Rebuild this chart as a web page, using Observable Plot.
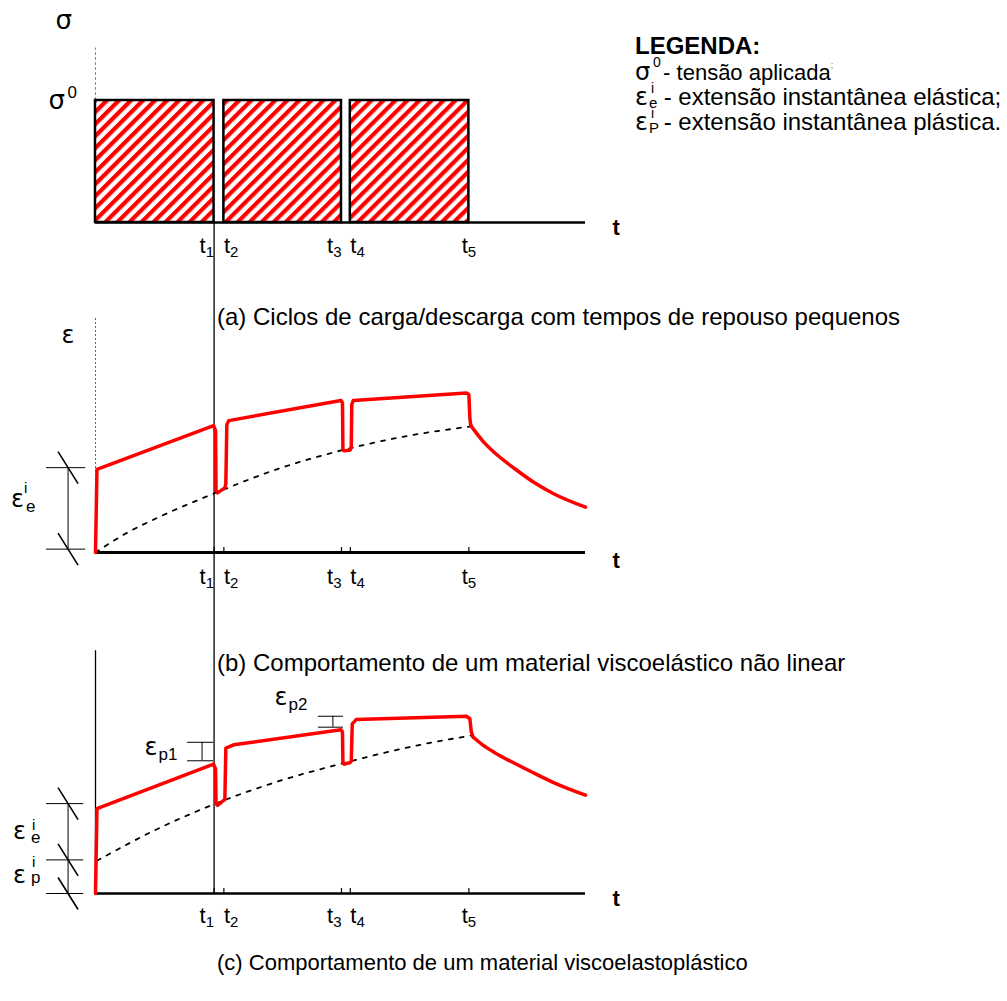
<!DOCTYPE html>
<html lang="pt">
<head>
<meta charset="utf-8">
<script src="https://cdn.jsdelivr.net/npm/d3@7"></script>
<script src="https://cdn.jsdelivr.net/npm/@observablehq/plot@0.6"></script>
<style>
  html, body { margin: 0; padding: 0; background: #fff; }
  #fig { position: relative; width: 1007px; height: 1001px; overflow: hidden; background: #fff; }
  #fig > svg { position: absolute; left: 0; }
</style>
</head>
<body>
<div id="fig"></div>
<script>
// ===================== DATA =====================
// time instants of loading / unloading (t1 .. t5) and end of the time axis
const tEvents = [2.42, 2.62, 5.02, 5.20, 7.62];
const tickSubs = ["1", "2", "3", "4", "5"];
const tEnd = 10;
// applied stress (panel a)
const sigma0 = 1;

// panel (b): viscoelastic material, total strain (red)
const bRedTime   = [0, 0.03, 2.41, 2.45, 2.46, 2.49, 2.64, 2.66, 2.68, 2.72, 5.01, 5.04, 5.05, 5.08, 5.20, 5.22, 5.23, 5.26, 7.57, 7.62, 7.64, 7.66];
const bRedStrain = [0, 0.99, 1.51, 1.45, 0.74, 0.71, 0.77, 0.82, 1.52, 1.57, 1.81, 1.78, 1.22, 1.21, 1.22, 1.26, 1.76, 1.81, 1.90, 1.88, 1.60, 1.51];
// panel (b): recovery after t5
const bTailTime   = [7.66, 7.90, 8.20, 8.55, 8.96, 9.35, 10];
const bTailStrain = [1.51, 1.33, 1.16, 1.00, 0.83, 0.70, 0.54];
// panel (b): dashed envelope
const bRefTime   = [0, 0.6, 1.29, 2.45, 3.7, 5.05, 6.3, 7.64];
const bRefStrain = [0, 0.22, 0.42, 0.71, 0.99, 1.22, 1.38, 1.50];
// panel (b): instantaneous elastic strain bracket
const bElasticLevels = [0.04, 1.01];

// panel (c): viscoelastoplastic material, total strain (red)
const cRedTime   = [0, 0.03, 2.41, 2.45, 2.46, 2.49, 2.64, 2.66, 2.82, 5.01, 5.04, 5.05, 5.08, 5.20, 5.22, 5.24, 5.32, 7.57, 7.64, 7.67, 7.71];
const cRedStrain = [0, 1.01, 1.54, 1.48, 1.07, 1.05, 1.12, 1.73, 1.77, 1.95, 1.92, 1.55, 1.54, 1.56, 1.58, 2.02, 2.07, 2.11, 2.08, 1.92, 1.86];
const cTailTime   = [7.71, 7.90, 8.14, 8.55, 8.96, 9.35, 10];
const cTailStrain = [1.86, 1.77, 1.68, 1.55, 1.43, 1.32, 1.17];
const cRefTime   = [0.03, 1.2, 2.45, 3.7, 5.05, 6.3, 7.66];
const cRefStrain = [0.39, 0.75, 1.07, 1.33, 1.55, 1.73, 1.88];
// panel (c): instantaneous plastic / elastic strain brackets
const cStrainLevels = [0, 0.40, 1.07];
// panel (c): plastic strain increments
const ep1Levels = [1.58, 1.80];
const ep1Span = [1.88, 2.41];
const ep2Levels = [1.98, 2.11];
const ep2Span = [4.55, 5.06];

// texts
const captions = [
  "(a) Ciclos de carga/descarga com tempos de repouso pequenos",
  "(b) Comportamento de um material viscoelástico não linear",
  "(c) Comportamento de um material viscoelastoplástico"
];
const legendTitle = "LEGENDA:";
const legendItems = [
  {sym: "σ", sup: "0", sub: "", text: " - tensão aplicada", tail: ";"},
  {sym: "ε", sup: "i", sub: "e", text: " - extensão instantânea elástica;", tail: ""},
  {sym: "ε", sup: "i", sub: "P", text: " - extensão instantânea plástica.", tail: ""}
];

// ===================== LAYOUT / STYLE =====================
const W = 1007, H = 1001;
const X0 = 95, PX_PER_T = 49;           // pixel of t = 0, pixels per time unit
const FONT = '"Liberation Sans", Arial, Helvetica, sans-serif';
const GREEK = '"DejaVu Sans", "Liberation Sans", sans-serif';
const RED = "#ff0000";
const tickAlign = ["end", "start", "end", "start", "middle"];
const LAYOUT = {
  a: {top: 0,   height: 300, axisY: 222, ppu: 122},
  b: {top: 300, height: 340, axisY: 552, ppu: 84},
  c: {top: 640, height: 361, axisY: 893, ppu: 84}
};

const fig = document.getElementById("fig");
const zip = (a, b) => a.map((v, i) => ({t: v, s: b[i]}));

function panel(L, marksFn) {
  const axisLocal = L.axisY - L.top;
  const yLo = (axisLocal - L.height) / L.ppu, yHi = axisLocal / L.ppu;
  const svg = Plot.plot({
    width: W, height: L.height,
    marginTop: 0, marginRight: 0, marginBottom: 0, marginLeft: 0,
    x: {type: "linear", domain: [-X0 / PX_PER_T, (W - X0) / PX_PER_T], axis: null},
    y: {type: "linear", domain: [yLo, yHi], axis: null},
    style: {background: "transparent", overflow: "visible", fontFamily: FONT, color: "#000"},
    marks: marksFn(yLo, yHi, L)
  });
  svg.style.position = "absolute";
  svg.style.top = L.top + "px";
  svg.style.left = "0px";
  fig.appendChild(svg);
  return svg;
}

// multi-part label (base letter + superscripts/subscripts) anchored at data (x, y)
function label(x, y, parts) {
  return parts.map(p => Plot.text([0], {
    x: () => x, y: () => y, text: () => p.t,
    fontSize: p.fs, fontFamily: p.ff || FONT, fontWeight: p.fw || "normal",
    textAnchor: "start", lineAnchor: "bottom", dx: p.dx, dy: p.dy, fill: "#000"
  }));
}

function tickLabelMarks(dy) {
  const tFs = 22, sFs = 15;
  const tW = 0.278 * tFs, sW = 0.556 * sFs;
  return tEvents.flatMap((t, i) => {
    const w = tW + sW, a = tickAlign[i];
    const off = a === "start" ? 0 : a === "end" ? -w : -w / 2;
    return [
      Plot.text([t], {x: d => d, y: () => 0, text: () => "t", fontSize: tFs, textAnchor: "start", lineAnchor: "bottom", dx: off, dy}),
      Plot.text([t], {x: d => d, y: () => 0, text: () => tickSubs[i], fontSize: sFs, textAnchor: "start", lineAnchor: "bottom", dx: off + tW, dy: dy + 4})
    ];
  });
}

function axisT(dy) {
  return label(tEnd, 0, [{t: "t", fs: 22, fw: "bold", dx: 27, dy}]);
}

// bracket with slashed extension lines (dimension marker) at the left of the axes
function dimBracket(levels, xMid, xFrom, xTo, ppu) {
  const hx = 10 / PX_PER_T, hy = 16 / ppu;
  return [
    Plot.ruleY(levels, {x1: xFrom, x2: xTo, stroke: "#000", strokeWidth: 1}),
    Plot.ruleX([xMid], {y1: d3.min(levels), y2: d3.max(levels), stroke: "#000", strokeWidth: 1}),
    Plot.link(levels, {x1: () => xMid - hx, y1: d => d + hy, x2: () => xMid + hx, y2: d => d - hy, stroke: "#000", strokeWidth: 1.6})
  ];
}

// ===================== PANEL (a) =====================
const blocks = [[0, tEvents[0]], [tEvents[1], tEvents[2]], [tEvents[3], tEvents[4]]].map(([s, e]) => ({s, e}));
const sigmaAxisTop = 1.43;
const svgA = panel(LAYOUT.a, (yLo) => [
  Plot.ruleX([0], {y1: sigma0, y2: sigmaAxisTop, stroke: "#8a8a8a", strokeWidth: 1, strokeDasharray: "3,2"}),
  Plot.rect(blocks, {x1: "s", x2: "e", y1: () => 0, y2: () => sigma0, fill: "url(#hatch)", stroke: "#000", strokeWidth: 2.5}),
  Plot.ruleY([0], {x1: 0, x2: tEnd, stroke: "#000", strokeWidth: 2.5}),
  Plot.ruleX([tEvents[0]], {y1: yLo, y2: 0, stroke: "#000", strokeWidth: 1.3}),
  ...label(0, sigmaAxisTop, [{t: "σ", fs: 26, ff: GREEK, dx: -40, dy: -19}]),
  ...label(0, sigma0, [{t: "σ", fs: 26, ff: GREEK, dx: -47, dy: 8}, {t: "0", fs: 17, dx: -28, dy: -3}]),
  ...axisT(12),
  ...tickLabelMarks(30)
]);
// hatch pattern for the load blocks
{
  const defs = d3.select(svgA).insert("defs", ":first-child");
  const p = defs.append("pattern").attr("id", "hatch").attr("patternUnits", "userSpaceOnUse")
    .attr("width", 8.5).attr("height", 8.5).attr("patternTransform", "rotate(45)");
  p.append("rect").attr("width", 8.5).attr("height", 8.5).attr("fill", "#fff");
  p.append("rect").attr("width", 4.2).attr("height", 8.5).attr("fill", RED);
}

// ===================== PANEL (b) =====================
const bAxisTop = 2.79;
panel(LAYOUT.b, (yLo, yHi, L) => [
  Plot.ruleX([0], {y1: 0, y2: bAxisTop, stroke: "#666", strokeWidth: 1, strokeDasharray: "2,2"}),
  Plot.ruleX([tEvents[0]], {y1: yLo, y2: yHi, stroke: "#000", strokeWidth: 1.3}),
  Plot.line(zip(bRefTime, bRefStrain), {x: "t", y: "s", curve: "monotone-x", stroke: "#000", strokeWidth: 1.8, strokeDasharray: "4,7"}),
  Plot.ruleY([0], {x1: 0, x2: tEnd, stroke: "#000", strokeWidth: 3}),
  Plot.ruleX(tEvents, {y1: 0, y2: 0.06, stroke: "#000", strokeWidth: 1.2}),
  Plot.line(zip(bRedTime, bRedStrain), {x: "t", y: "s", stroke: RED, strokeWidth: 3.5, strokeLinejoin: "round", strokeLinecap: "round"}),
  Plot.line(zip(bTailTime, bTailStrain), {x: "t", y: "s", curve: "monotone-x", stroke: RED, strokeWidth: 3.5, strokeLinecap: "round"}),
  ...dimBracket(bElasticLevels, -0.56, -1.0, -0.2, L.ppu),
  ...label(-0.56, d3.mean(bElasticLevels), [
    {t: "ε", fs: 24, ff: GREEK, dx: -57, dy: -1},
    {t: "i", fs: 15, dx: -44, dy: -15},
    {t: "e", fs: 17, dx: -42, dy: 4}
  ]),
  ...label(0, bAxisTop, [{t: "ε", fs: 24, ff: GREEK, dx: -34, dy: 25}]),
  ...axisT(15),
  ...tickLabelMarks(31)
]);

// ===================== PANEL (c) =====================
const cAxisTop = 2.89;
panel(LAYOUT.c, (yLo, yHi, L) => [
  Plot.ruleX([0], {y1: 0, y2: cAxisTop, stroke: "#000", strokeWidth: 1.3}),
  Plot.ruleX([tEvents[0]], {y1: 0, y2: yHi, stroke: "#000", strokeWidth: 1.3}),
  Plot.line(zip(cRefTime, cRefStrain), {x: "t", y: "s", curve: "monotone-x", stroke: "#000", strokeWidth: 1.8, strokeDasharray: "4,7"}),
  Plot.ruleY([0], {x1: 0, x2: tEnd, stroke: "#000", strokeWidth: 2.5}),
  Plot.ruleX(tEvents, {y1: 0, y2: 0.06, stroke: "#000", strokeWidth: 1.2}),
  Plot.line(zip(cRedTime, cRedStrain), {x: "t", y: "s", stroke: RED, strokeWidth: 3.5, strokeLinejoin: "round", strokeLinecap: "round"}),
  Plot.line(zip(cTailTime, cTailStrain), {x: "t", y: "s", curve: "monotone-x", stroke: RED, strokeWidth: 3.5, strokeLinecap: "round"}),
  ...dimBracket(cStrainLevels, -0.56, -1.0, -0.24, L.ppu),
  ...label(-0.56, (cStrainLevels[1] + cStrainLevels[2]) / 2, [
    {t: "ε", fs: 24, ff: GREEK, dx: -55, dy: 7},
    {t: "i", fs: 15, dx: -36, dy: -2},
    {t: "e", fs: 17, dx: -37, dy: 11}
  ]),
  ...label(-0.56, (cStrainLevels[0] + cStrainLevels[1]) / 2, [
    {t: "ε", fs: 24, ff: GREEK, dx: -55, dy: 6},
    {t: "i", fs: 15, dx: -36, dy: -10},
    {t: "p", fs: 17, dx: -37, dy: 6}
  ]),
  // plastic increments
  Plot.ruleY(ep1Levels, {x1: ep1Span[0], x2: ep1Span[1], stroke: "#000", strokeWidth: 1}),
  Plot.ruleX([d3.mean(ep1Span) + 0.03], {y1: ep1Levels[0], y2: ep1Levels[1], stroke: "#000", strokeWidth: 1}),
  Plot.ruleY(ep2Levels, {x1: ep2Span[0], x2: ep2Span[1], stroke: "#000", strokeWidth: 1}),
  Plot.ruleX([d3.mean(ep2Span) + 0.04], {y1: ep2Levels[0], y2: ep2Levels[1], stroke: "#000", strokeWidth: 1}),
  ...label(ep1Span[0], ep1Levels[1], [
    {t: "ε", fs: 24, ff: GREEK, dx: -43, dy: 13},
    {t: "p1", fs: 17, dx: -29, dy: 18}
  ]),
  ...label(ep2Span[0], ep2Levels[1], [
    {t: "ε", fs: 24, ff: GREEK, dx: -44, dy: -11},
    {t: "p2", fs: 17, dx: -30, dy: -6}
  ]),
  ...axisT(12),
  ...tickLabelMarks(29)
]);

// ===================== LEGEND & CAPTIONS =====================
const overlay = d3.select(fig).append("svg")
  .attr("width", W).attr("height", H)
  .style("position", "absolute").style("left", "0px").style("top", "0px")
  .style("pointer-events", "none")
  .attr("font-family", FONT).attr("fill", "#000");

const legX = 635, legBase = 54, legStep = 25;
const legFs = [22, 24, 24];
overlay.append("text").attr("x", legX).attr("y", legBase)
  .attr("font-size", 24).attr("font-weight", "bold").text(legendTitle);
legendItems.forEach((it, i) => {
  const yb = legBase + 26 + legStep * i;
  const g = overlay.append("g");
  g.append("text").attr("x", legX).attr("y", yb).attr("font-family", GREEK).attr("font-size", 24).text(it.sym);
  if (it.sub) {
    g.append("text").attr("x", legX + 16).attr("y", yb - 12).attr("font-size", 14).text(it.sup);
    g.append("text").attr("x", legX + 14).attr("y", yb + 3).attr("font-size", 15).text(it.sub);
  } else {
    g.append("text").attr("x", legX + 18).attr("y", yb - 13).attr("font-size", 14).text(it.sup);
  }
  const t = g.append("text").attr("x", legX + 22).attr("y", yb).attr("font-size", legFs[i]).attr("xml:space", "preserve");
  t.append("tspan").text(it.text);
  if (it.tail) t.append("tspan").attr("font-size", 9).attr("dy", -12).attr("fill", "#777").text(it.tail);
});

const capBase = [325, 671, 970];
const capFs = [24, 24, 22];
captions.forEach((c, i) => {
  overlay.append("text").attr("x", 217).attr("y", capBase[i]).attr("font-size", capFs[i]).text(c);
});
</script>
</body>
</html>
